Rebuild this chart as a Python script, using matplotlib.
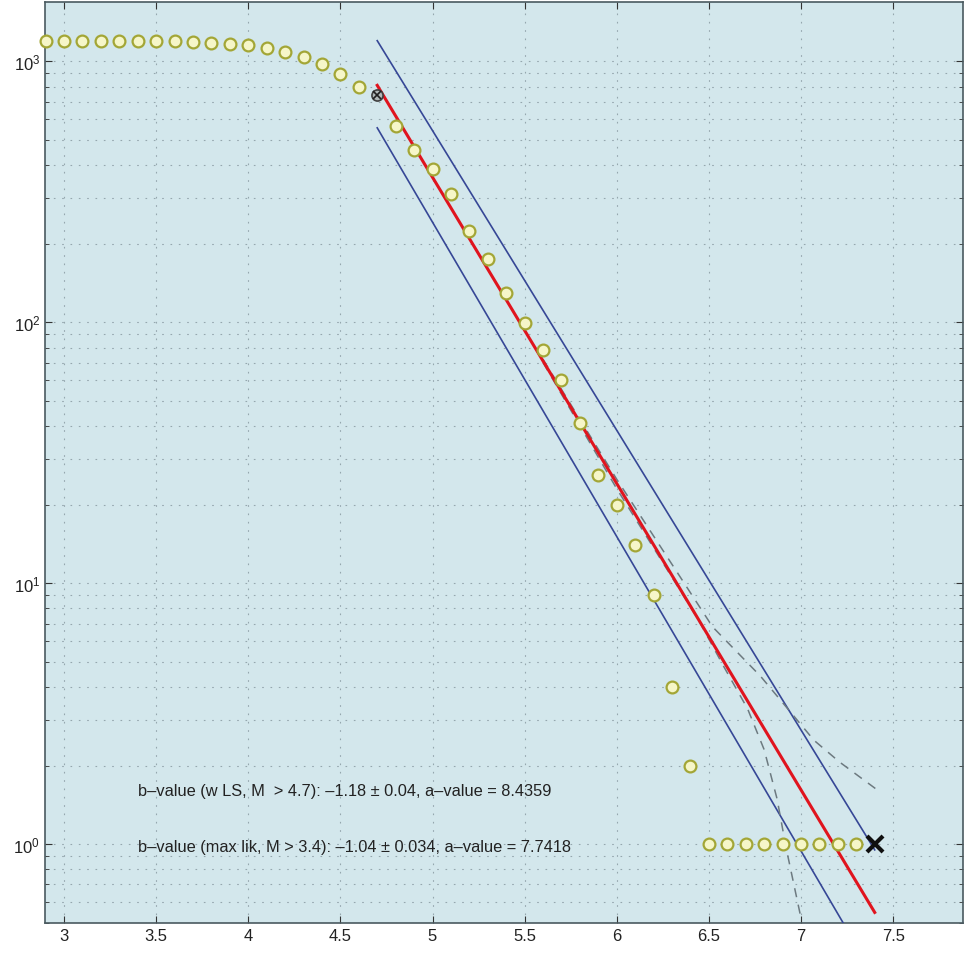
import matplotlib.pyplot as plt
from matplotlib.ticker import LogLocator, NullFormatter, FixedLocator

# Cumulative number of events vs magnitude
mags = [2.9, 3.0, 3.1, 3.2, 3.3, 3.4, 3.5, 3.6, 3.7, 3.8, 3.9, 4.0, 4.1, 4.2, 4.3,
        4.4, 4.5, 4.6, 4.8, 4.9, 5.0, 5.1, 5.2, 5.3, 5.4, 5.5, 5.6, 5.7, 5.8,
        5.9, 6.0, 6.1, 6.2, 6.3, 6.4, 6.5, 6.6, 6.7, 6.8, 6.9, 7.0, 7.1, 7.2, 7.3]
counts = [1196, 1196, 1196, 1195, 1195, 1194, 1194, 1193, 1189, 1180, 1169, 1154,
          1128, 1088, 1038, 974, 892, 800, 565, 457, 385, 309, 223, 174, 129, 99,
          78, 60, 41, 26, 20, 14, 9, 4, 2, 1, 1, 1, 1, 1, 1, 1, 1, 1]

# Magnitude of completeness and max magnitude markers
mc_mag, mc_count = 4.7, 741
max_mag, max_count = 7.4, 1

# Fit line (red) and bounds (blue), as endpoints
fit_m = [4.7, 7.4]
fit_n = [809, 0.547]
upper_m = [4.7, 7.4]
upper_n = [1200, 0.95]
lower_m = [4.7, 7.4]
lower_n = [556, 0.31]

# Dashed confidence curves
conf_up_m = [5.6, 6.0, 6.52, 6.78, 6.96, 7.07, 7.21, 7.41]
conf_up_n = [72, 25, 6.8, 4.4, 3.1, 2.5, 2.06, 1.62]
conf_lo_m = [5.6, 6.0, 6.44, 6.58, 6.71, 6.80, 6.87, 6.92, 7.0]
conf_lo_n = [70, 23, 7.3, 4.8, 3.3, 2.3, 1.49, 0.96, 0.52]

text_lines = ['b\u2013value (w LS, M  > 4.7): \u20131.18 \u00b1 0.04, a\u2013value = 8.4359',
              'b\u2013value (max lik, M > 3.4): \u20131.04 \u00b1 0.034, a\u2013value = 7.7418']
text_y = [1.6, 0.98]

plt.rcParams['font.family'] = ['Liberation Sans', 'DejaVu Sans']

fig = plt.figure(figsize=(9.68, 9.54), dpi=100)
ax = fig.add_axes([0.0465, 0.0314, 0.9485, 0.9656])
ax.set_facecolor('#d3e7ec')
ax.set_yscale('log')
ax.set_xlim(2.897, 7.88)
ax.set_ylim(0.498, 1690)

# grid
grid_style = dict(color='#95a7ae', linestyle=(0, (1.5, 6)), linewidth=0.8)
ax.grid(True, which='major', axis='x', **grid_style)
ax.grid(True, which='both', axis='y', **grid_style)
ax.set_axisbelow(True)

# bounds and fit
ax.plot(upper_m, upper_n, color='#364796', lw=1.2, zorder=3)
ax.plot(lower_m, lower_n, color='#364796', lw=1.2, zorder=3)
ax.plot(conf_up_m, conf_up_n, color='#6d7a80', lw=1.1, ls=(0, (6, 5)), zorder=3)
ax.plot(conf_lo_m, conf_lo_n, color='#6d7a80', lw=1.1, ls=(0, (6, 5)), zorder=3)
ax.plot(fit_m, fit_n, color='#e0141e', lw=2.2, zorder=4)

# data points
ax.plot(mags, counts, 'o', ms=8.5, mfc='#f6f6c8', mec='#a3a636', mew=1.6, zorder=5,
        clip_on=False)
ax.plot(mc_mag, mc_count, 'o', ms=8, mfc='#b0b8b8', mec='#404040', mew=1.2, zorder=6)
ax.plot(mc_mag, mc_count, 'x', ms=6, color='#202020', mew=1.2, zorder=7)
ax.plot(max_mag, max_count, 'x', ms=12, color='#101010', mew=3, zorder=7)

for t, yv in zip(text_lines, text_y):
    ax.text(3.4, yv, t, fontsize=11.8, color='#222222', va='center', ha='left', zorder=8)

# ticks
ax.xaxis.set_major_locator(FixedLocator([3, 3.5, 4, 4.5, 5, 5.5, 6, 6.5, 7, 7.5]))
ax.set_xticklabels(['3', '3.5', '4', '4.5', '5', '5.5', '6', '6.5', '7', '7.5'])
ax.yaxis.set_major_locator(LogLocator(base=10))
ax.yaxis.set_minor_locator(LogLocator(base=10, subs=range(2, 10)))
ax.yaxis.set_minor_formatter(NullFormatter())
ax.tick_params(which='both', direction='in', top=True, right=True, colors='#333333',
               labelcolor='#222222')
ax.tick_params(which='major', length=5, labelsize=12)
ax.tick_params(which='minor', length=3)
ax.tick_params(axis='y', labelsize=12)
for s in ax.spines.values():
    s.set_color('#4a5a60')
    s.set_linewidth(1.2)

fig.savefig('out.png', dpi=100, facecolor='white')
